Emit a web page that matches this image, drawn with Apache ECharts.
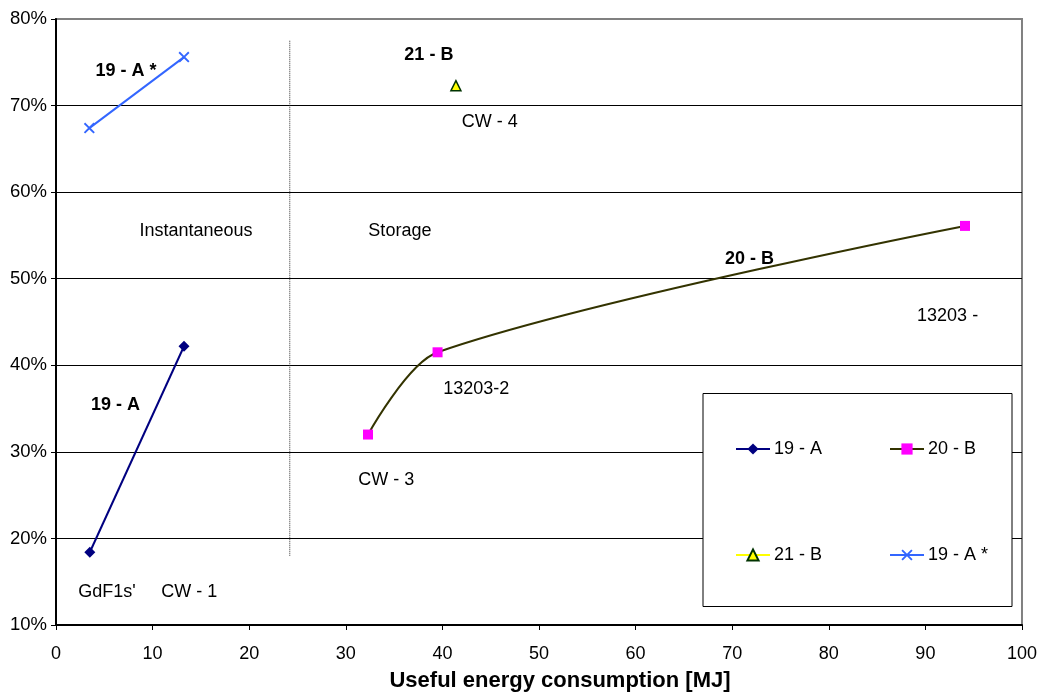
<!DOCTYPE html>
<html>
<head>
<meta charset="utf-8">
<script src="https://cdn.jsdelivr.net/npm/echarts@6/dist/echarts.min.js"></script>
<style>
  html, body { margin: 0; padding: 0; background: #ffffff; }
  #chart { width: 1040px; height: 700px; }
</style>
</head>
<body>
<div id="chart"></div>
<script>
// Measured efficiency vs. useful energy consumption per appliance
const series19A     = [[3.5, 18.4], [13.25, 42.2]];
const series20B     = [[32.3, 32.0], [39.5, 41.5], [94.1, 56.1]];
const series21B     = [[41.4, 72.3]];
const series19AStar = [[3.45, 67.4], [13.25, 75.6]];

// Boundary between instantaneous and storage heaters
const dividerLine = [[24.2, 18.0], [24.2, 77.6]];

// Axis ranges
const xRange = [0, 100, 10];
const yRange = [10, 80, 10];

// Chart annotations: [text, x, y, bold]
const notes = [
  ['19 - A *', 7.25, 74.0, true],
  ['21 - B', 38.6, 75.8, true],
  ['CW - 4', 44.9, 68.1, false],
  ['Instantaneous', 14.5, 55.5, false],
  ['Storage', 35.6, 55.5, false],
  ['20 - B', 71.8, 52.3, true],
  ['13203 -', 92.3, 45.7, false],
  ['13203-2', 43.5, 37.2, false],
  ['19 - A', 6.16, 35.4, true],
  ['CW - 3', 34.2, 26.7, false],
  ["GdF1s'", 5.28, 13.76, false],
  ['CW - 1', 13.8, 13.76, false]
];

const FONT = '"Liberation Sans", Arial, sans-serif';
const CROSS = 'path://M0,1.2L1.2,0L5,3.8L8.8,0L10,1.2L6.2,5L10,8.8L8.8,10L5,6.2L1.2,10L0,8.8L3.8,5Z';

const chart = echarts.init(document.getElementById('chart'), null, { renderer: 'canvas' });

function legendAt(name, left, top) {
  return {
    data: [name], left: left, top: top, orient: 'horizontal',
    itemWidth: 34, itemHeight: 14, itemGap: 0, padding: 0,
    selectedMode: false, z: 10,
    textStyle: { fontFamily: FONT, fontSize: 18, color: '#000', padding: [0, 0, 0, -1] }
  };
}

const option = {
  backgroundColor: '#ffffff',
  animation: false,
  grid: {
    left: 56, right: 18, top: 19, bottom: 75,
    show: true, borderColor: '#808080', borderWidth: 2, backgroundColor: 'transparent'
  },
  xAxis: {
    type: 'value', min: xRange[0], max: xRange[1], interval: xRange[2],
    axisLine: { show: true, onZero: false, lineStyle: { color: '#000', width: 2 } },
    axisTick: { show: true, inside: false, length: 5, lineStyle: { color: '#000', width: 1 } },
    axisLabel: { margin: 20, fontFamily: FONT, fontSize: 18, color: '#000' },
    splitLine: { show: false }
  },
  yAxis: {
    type: 'value', min: yRange[0], max: yRange[1], interval: yRange[2],
    axisLine: { show: true, onZero: false, lineStyle: { color: '#000', width: 2 } },
    axisTick: { show: true, inside: false, length: 5, lineStyle: { color: '#000', width: 1 } },
    axisLabel: { margin: 9, fontFamily: FONT, fontSize: 18.5, color: '#000', formatter: v => v + '%' },
    splitLine: { show: true, showMinLine: false, showMaxLine: false, lineStyle: { color: '#000', width: 1 } }
  },
  legend: [
    legendAt('19 - A', 735, 440),
    legendAt('20 - B', 889, 440),
    legendAt('21 - B', 735, 546),
    legendAt('19 - A *', 889, 546)
  ],
  series: [
    {
      name: 'divider', type: 'line', data: dividerLine, symbol: 'none', silent: true,
      lineStyle: { color: '#333', width: 1, type: [1, 1] }, z: 1
    },
    {
      name: '19 - A', type: 'line', data: series19A,
      symbol: 'diamond', symbolSize: 11,
      itemStyle: { color: '#000080' },
      lineStyle: { color: '#000080', width: 2 }, z: 3
    },
    {
      name: '20 - B', type: 'line', data: series20B, smooth: 0.3,
      symbol: 'rect', symbolSize: 10,
      itemStyle: { color: '#ff00ff' },
      lineStyle: { color: '#333300', width: 2 }, z: 3
    },
    {
      name: '21 - B', type: 'line', data: series21B,
      symbol: 'triangle', symbolSize: 10,
      itemStyle: { color: '#ffff00', borderColor: '#003300', borderWidth: 1.5 },
      lineStyle: { color: '#ffff00', width: 2 }, z: 3
    },
    {
      name: '19 - A *', type: 'line', data: series19AStar,
      symbol: CROSS, symbolSize: 11,
      itemStyle: { color: '#3366ff' },
      lineStyle: { color: '#3366ff', width: 2 }, z: 3
    }
  ]
};

chart.setOption(option);

// Legend frame plus the free-text annotations, placed through the axis scales
const graphics = [
  {
    type: 'rect', z: 5, silent: true,
    shape: { x: 703, y: 393.5, width: 309, height: 213 },
    style: { fill: '#ffffff', stroke: '#000', lineWidth: 1 }
  },
  {
    type: 'text', z: 5, silent: true,
    x: 560, y: 681,
    style: {
      text: 'Useful energy consumption [MJ]', fill: '#000',
      font: 'bold 22px ' + FONT, align: 'center', verticalAlign: 'middle'
    }
  }
];
notes.forEach(([text, x, y, bold]) => {
  const p = chart.convertToPixel({ gridIndex: 0 }, [x, y]);
  graphics.push({
    type: 'text', z: 6, silent: true, x: p[0], y: p[1],
    style: {
      text: text, fill: '#000',
      font: (bold ? 'bold ' : '') + '18px ' + FONT,
      align: 'center', verticalAlign: 'middle'
    }
  });
});
chart.setOption({ graphic: graphics });
</script>
</body>
</html>
